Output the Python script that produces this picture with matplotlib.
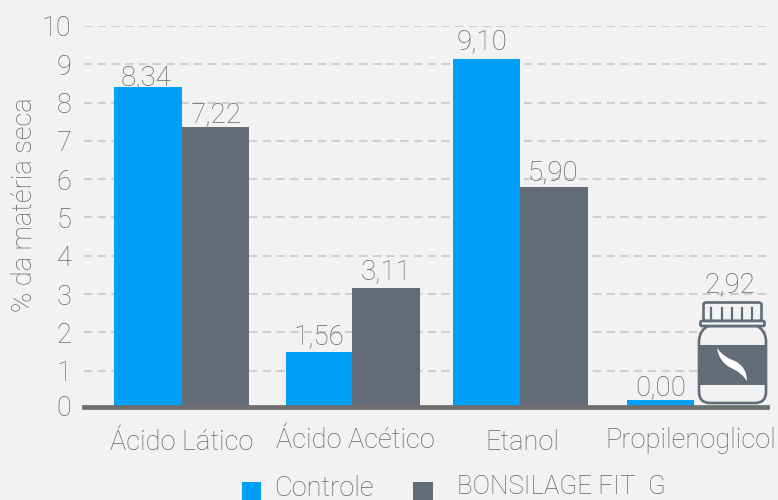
import matplotlib
matplotlib.use("Agg")
import matplotlib.pyplot as plt
from matplotlib.patches import FancyBboxPatch, PathPatch, Rectangle
from matplotlib.path import Path

categories = ["Ácido Lático", "Ácido Acético", "Etanol", "Propilenoglicol"]
controle = [8.41, 1.49, 9.14, 0.23]
bonsilage = [7.36, 3.16, 5.80, 2.92]
controle_labels = ["8,34", "1,56", "9,10", "0,00"]
bonsilage_labels = ["7,22", "3,11", "5,90", "2,92"]
ytick_labels = ["0", "1", "2", "3", "4", "5", "6", "7", "8", "9", "10"]

BG = "#f2f2f2"
BLUE = "#009ffa"
SLATE = "#636d78"
TXT = "#666666"
W, H = 778, 500

plt.rcParams["font.family"] = ["Roboto", "DejaVu Sans"]
plt.rcParams["font.weight"] = "light"

fig = plt.figure(figsize=(W / 100, H / 100), dpi=100, facecolor=BG)
ax = fig.add_axes([84 / W, 1 - 409 / H, (767 - 84) / W, (409 - 26) / H], facecolor=BG)
ax.set_xlim(84, 767)
ax.set_ylim(0, 10)

# group centres and bar widths are in pixels, the groups are not evenly spaced
centres = [181.5, 352, 520.5, 694]
w1 = [67.5, 66, 67, 67]
w2 = [67.5, 68, 68, 67]
b1 = ax.bar(centres, controle, w1, align="edge", color=BLUE, zorder=3)
for r, c, w in zip(b1, centres, w1):
    r.set_x(c - w)
b2 = ax.bar(centres, bonsilage, w2, align="edge", color=SLATE, zorder=3)
b2[3].set_visible(False)  # the last bar is drawn as a jar

lab1 = ax.bar_label(b1, labels=controle_labels, padding=-3, fontsize=20, color=TXT, zorder=4)
lab2 = ax.bar_label(b2, labels=bonsilage_labels, padding=-3, fontsize=20, color=TXT, zorder=4)
# small hand nudges, in points
for t, dx, dy in zip(lab1, [-1.5, 0, -3.5, 0], [0, 4.3, 5.8, 2.5]):
    x0, y0 = t.get_position()
    t.set_position((x0 + dx, y0 + dy))
for t, dx, dy in zip(lab2, [1, 0, -1.5, 1.5], [2.2, 5, 3.6, 2.2]):
    x0, y0 = t.get_position()
    t.set_position((x0 + dx, y0 + dy))

# the 0 label sits a little above the real zero, on the baseline
ax.set_yticks([0.1] + list(range(1, 11)), ytick_labels)
ax.set_xticks([])
ax.tick_params(axis="y", length=0, pad=9, labelsize=19.5, labelcolor=TXT)
ax.grid(axis="y", color="#cfcfcf", lw=1.5, dashes=(4, 2.6), zorder=1)
ax.yaxis.get_gridlines()[0].set_visible(False)
ax.set_axisbelow(True)
for s in ax.spines.values():
    s.set_visible(False)
ax.axhline(0.065, color="#6e6e6e", lw=3.4, zorder=4, clip_on=False)


def px(x, y):
    return x / W, 1 - y / H


fig.text(*px(25, 205), "% da matéria seca", rotation=90, ha="center", va="center",
         fontsize=19.6, color=TXT)

for name, x, y in zip(categories, [182, 355, 522, 691], [442, 440, 442, 440]):
    fig.text(*px(x, y), name, ha="center", va="center", fontsize=19.6, color=TXT)

# legend
fig.add_artist(Rectangle(px(242, 500), 19 / W, 18 / H, transform=fig.transFigure,
                         color=BLUE, lw=0))
fig.add_artist(Rectangle(px(413, 500), 20 / W, 18 / H, transform=fig.transFigure,
                         color=SLATE, lw=0))
fig.text(*px(274, 488), "Controle", va="center", fontsize=19.6, color=TXT)
fig.text(*px(457, 487), "BONSILAGE FIT  G", va="center", fontsize=18.7, color=TXT)

# jar, pixel coordinates
tr = fig.transFigure


def fpath(verts, codes):
    return Path([px(*v) for v in verts], codes)


M, L, Q = Path.MOVETO, Path.LINETO, Path.CURVE3
jar_lw = 1.9
body = fpath(
    [(708, 326), (700, 330), (699, 340), (699, 392), (699, 403), (710, 403),
     (755, 403), (766, 403), (766, 392), (766, 340), (765, 330), (757, 326), (708, 326)],
    [M, Q, Q, L, Q, Q, L, Q, Q, L, Q, Q, L])
fig.add_artist(PathPatch(body, transform=tr, fc=BG, ec=SLATE, lw=jar_lw))
fig.add_artist(Rectangle(px(699, 385), 67 / W, 40 / H, transform=tr, fc=SLATE, lw=0))
fig.add_artist(FancyBboxPatch(px(703.5, 321), 58 / W, 18.5 / H,
                              boxstyle="round,pad=0,rounding_size=0.004", transform=tr,
                              fc=BG, ec=SLATE, lw=jar_lw))
for x in [711, 722, 732, 742, 752]:
    fig.add_artist(plt.Line2D([x / W, x / W], [1 - 308 / H, 1 - 321 / H], transform=tr,
                              color=SLATE, lw=1.6))
fig.add_artist(FancyBboxPatch(px(700.5, 326), 64 / W, 5 / H,
                              boxstyle="round,pad=0,rounding_size=0.002", transform=tr,
                              fc=BG, ec=SLATE, lw=jar_lw))
swoosh = fpath(
    [(717, 348), (723, 357), (735, 361), (747, 367), (747, 381),
     (741, 372), (731, 368), (719, 362), (717, 348)],
    [M, Q, Q, Q, Q, Q, Q, Q, Q])
fig.add_artist(PathPatch(swoosh, transform=tr, fc="white", lw=0))

fig.savefig("out.png", dpi=100, facecolor=BG)
